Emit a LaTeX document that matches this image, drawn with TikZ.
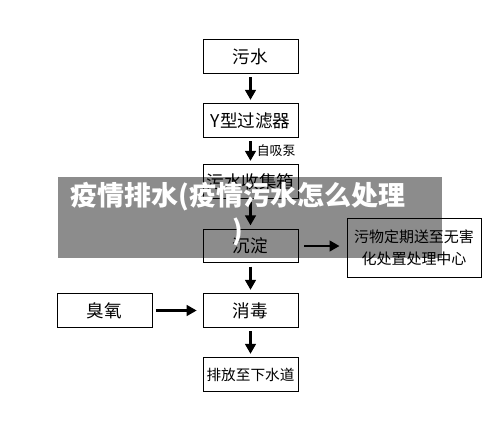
\documentclass[tikz,border=0pt]{standalone}
\usepackage{fontspec}
\setmainfont{Noto Sans CJK SC}
\usetikzlibrary{arrows.meta}

\begin{document}
\begin{tikzpicture}[x=0.03cm,y=-0.03cm,font=\fontsize{15}{17}\selectfont,
  box/.style={draw,line width=0.8pt,minimum width=2.85cm,minimum height=1cm,inner sep=1pt},
  flow/.style={line width=2pt,-{Triangle[length=3mm,width=3.2mm]}}]
\useasboundingbox (0,0) rectangle (500,436);
\fill[white] (0,0) rectangle (500,436);
\node[box] (water) at (250.5,56.5) {污水};
\node[box] (filter) at (250.5,120.5) {Y型过滤器};
\node[box] (tank) at (250.5,181.5) {污水收集箱};
\node[box] (settle) at (250.5,246) {沉淀};
\node[box,minimum width=4.02cm,minimum height=1.77cm,align=center,
  font=\fontsize{12.8}{19}\selectfont] (sludge) at (414,247.5) {污物定期送至无害\\化处置处理中心};
\node[box] (disinfect) at (250.5,310.5) {消毒};
\node[box] (ozone) at (104.5,310.5) {臭氧};
\node[box,font=\fontsize{12.5}{14}\selectfont] (outlet) at (250.5,374.5) {排放至下水道};
\draw[flow,shorten <=3pt,shorten >=3pt] (water) -- (filter);
\draw[flow,shorten <=3pt,shorten >=3pt] (filter) -- (tank)
  node[midway,right=1pt,font=\fontsize{11}{13}\selectfont] (pump) {自吸泵};
\draw[flow,shorten <=3pt,shorten >=3pt] (tank) -- (settle);
\draw[flow,shorten <=5pt,shorten >=6pt] (settle) -- (settle -| sludge.west);
\draw[flow,shorten <=3pt,shorten >=3pt] (settle) -- (disinfect);
\draw[flow,shorten <=3pt,shorten >=5pt] (ozone) -- (disinfect);
\draw[flow,shorten <=3pt,shorten >=3pt] (disinfect) -- (outlet);
% banner
\fill[black,opacity=0.45] (58,177) rectangle (442,258);
\node[text=white,font=\fontsize{23}{30}\bfseries,align=center] (banner) at (238,214)
  {疫情排水(疫情污水怎么处理\\)};
\end{tikzpicture}
\end{document}
